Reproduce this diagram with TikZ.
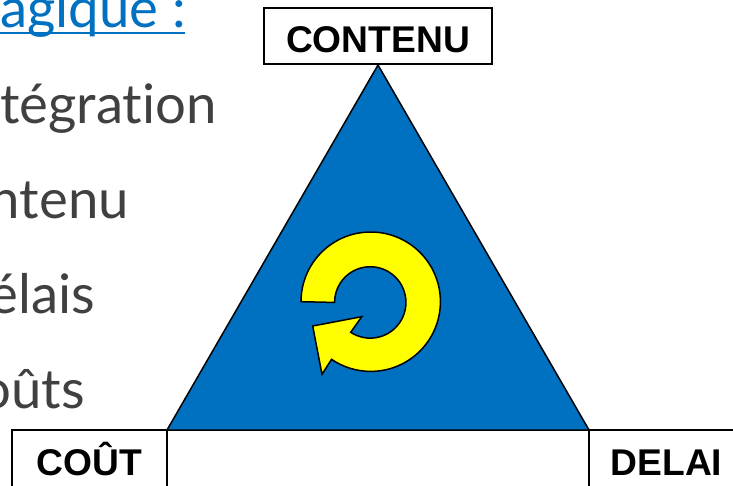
\documentclass[tikz,border=0pt]{standalone}
\usepackage{fontspec}
\setmainfont{Liberation Sans}
\newfontfamily\bodyfont[Ligatures=NoCommon]{Lato}
\definecolor{triblue}{HTML}{0070C0}
\definecolor{bodygray}{HTML}{404040}
\definecolor{arrowyellow}{HTML}{FFFF00}
\tikzset{
  labelbox/.style={draw=black,line width=1.5pt,fill=white,inner sep=0pt,minimum height=56pt,
    text height=33.6pt,text depth=0pt,
    font=\fontsize{37.2pt}{40pt}\selectfont\bfseries,text=black},
  cutbox/.style={labelbox,minimum width=155pt,minimum height=72pt,text height=19.2pt},
  listtext/.style={anchor=base east,inner sep=0pt,text=bodygray,font=\bodyfont\fontsize{54.5pt}{60pt}\selectfont},
  headtext/.style={anchor=base east,inner sep=0pt,text=triblue,font=\bodyfont\fontsize{54.5pt}{60pt}\selectfont},
  outline/.style={draw=black,line width=1.5pt,line join=miter}
}
\begin{document}
\begin{tikzpicture}[x=1pt,y=-1pt]
\useasboundingbox (0,0) rectangle (733,485);
\clip (0,0) rectangle (733,485);
\node[headtext] (head) at (186,27) {agique :};
\draw[triblue,line width=2pt] (0,33) -- (185,33);
\node[listtext] (l1) at (217,123) {tégration};
\node[listtext] (l2) at (129,218) {ntenu};
\node[listtext] (l3) at (95,313) {élais};
\node[listtext] (l4) at (85,408) {oûts};
\draw[outline,fill=triblue] (378,65) -- (589,430) -- (167,430) -- cycle;
\draw[outline,fill=arrowyellow]
  (301,301.7) arc[start angle=180,end angle=484.2,radius=69.7]
  -- (322,374.3) -- (312.7,326) -- (361.7,316.7) -- (350.7,332.3)
  arc[start angle=483.2,end angle=180,radius=35.7] -- cycle;
\node[labelbox,minimum width=228pt] (contenu) at (378,36) {CONTENU};
\node[cutbox] (cout) at (89.5,466) {COÛT};
\node[cutbox] (delai) at (666.5,466) {DELAI};
\end{tikzpicture}
\end{document}
